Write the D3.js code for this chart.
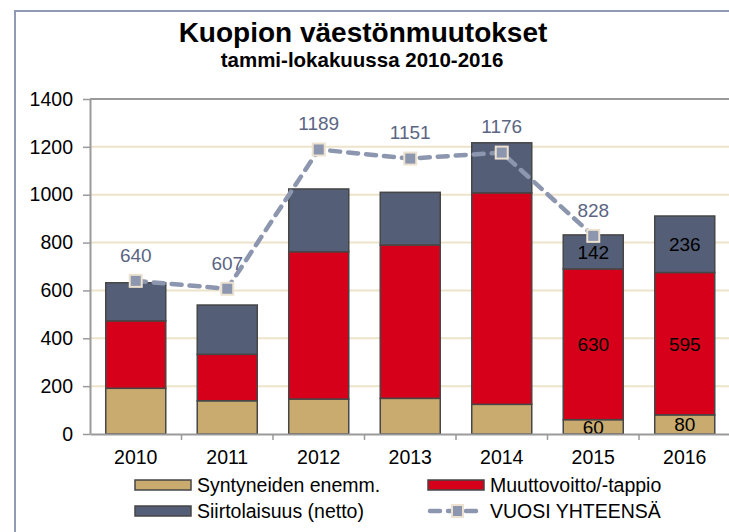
<!DOCTYPE html>
<html lang="fi">
<head>
<meta charset="utf-8">
<title>Kuopion väestönmuutokset</title>
<script src="https://cdn.jsdelivr.net/npm/d3@7"></script>
<style>
  body { margin: 0; background: #fff; }
  svg { font-family: "Liberation Sans", Arial, sans-serif; }
</style>
</head>
<body>
<script>
// data
var years = ["2010", "2011", "2012", "2013", "2014", "2015", "2016"];
var syntyneet = [191, 139, 146, 149, 124, 60, 80];
var muutto = [282, 194, 616, 641, 884, 630, 595];
var siirtolaisuus = [159, 206, 262, 220, 209, 142, 236];
var vuosi = [640, 607, 1189, 1151, 1176, 828, null];
var yTicks = [0, 200, 400, 600, 800, 1000, 1200, 1400];
var seriesNames = ["Syntyneiden enemm.", "Muuttovoitto/-tappio", "Siirtolaisuus (netto)", "VUOSI YHTEENSÄ"];
var labelledYears = ["2015", "2016"]; // only these have segment labels

var w = 729, h = 532;
var colors = ["#c9ab6f", "#d7001a", "#545e76"];
var lineColor = "#8c96ae";

var svg = d3.select("body").append("svg")
    .attr("width", w)
    .attr("height", h);

// outer frame (cropped on right/bottom)
svg.append("path")
    .attr("d", "M15,540 L15,11 L740,11")
    .attr("fill", "none")
    .attr("stroke", "#8f9ab5")
    .attr("stroke-width", 2);

// titles
svg.append("text")
    .attr("x", 363).attr("y", 42)
    .attr("text-anchor", "middle")
    .attr("font-size", 28).attr("font-weight", "bold")
    .text("Kuopion väestönmuutokset");
svg.append("text")
    .attr("x", 362).attr("y", 67)
    .attr("text-anchor", "middle")
    .attr("font-size", 20.5).attr("font-weight", "bold")
    .text("tammi-lokakuussa 2010-2016");

var x = d3.scaleBand()
    .domain(years)
    .range([90, 730.5])
    .paddingInner(0.344)
    .paddingOuter(0.172);

var y = d3.scaleLinear()
    .domain([0, 1400])
    .range([434, 99]);

// gridlines
svg.selectAll("line.grid")
    .data(yTicks.filter(function(d) { return d > 0 && d < 1400; }))
    .enter().append("line")
    .attr("class", "grid")
    .attr("x1", 90).attr("x2", w)
    .attr("y1", function(d) { return y(d); })
    .attr("y2", function(d) { return y(d); })
    .attr("stroke", "#ede3cb")
    .attr("stroke-width", 2);

// top border of plot area
svg.append("line")
    .attr("x1", 90).attr("x2", w)
    .attr("y1", y(1400)).attr("y2", y(1400))
    .attr("stroke", "#9a9a9a").attr("stroke-width", 2);

// stacked bars
var rows = years.map(function(yr, i) {
    return { year: yr, syn: syntyneet[i], muu: muutto[i], sii: siirtolaisuus[i] };
});
var stack = d3.stack().keys(["syn", "muu", "sii"]);
var layers = stack(rows);

var groups = svg.selectAll("g.layer")
    .data(layers)
    .enter().append("g")
    .attr("class", "layer")
    .attr("fill", function(d, i) { return colors[i]; });

groups.selectAll("rect")
    .data(function(d) { return d; })
    .enter().append("rect")
    .attr("x", function(d) { return x(d.data.year); })
    .attr("width", x.bandwidth())
    .attr("y", function(d) { return y(d[1]); })
    .attr("height", function(d) { return y(d[0]) - y(d[1]); })
    .attr("stroke", "#464646")
    .attr("stroke-width", 1.5);

// segment labels
groups.selectAll("text")
    .data(function(d) {
        return d.filter(function(p) { return labelledYears.indexOf(p.data.year) >= 0; });
    })
    .enter().append("text")
    .attr("x", function(d) { return x(d.data.year) + x.bandwidth() / 2; })
    .attr("y", function(d) { return (y(d[0]) + y(d[1])) / 2; })
    .attr("dy", "0.36em")
    .attr("text-anchor", "middle")
    .attr("font-size", 19)
    .attr("fill", "#000")
    .text(function(d) { return d[1] - d[0]; });

// axes
var yAxis = svg.append("g")
    .attr("transform", "translate(90,0)")
    .call(d3.axisLeft(y).tickValues(yTicks).tickFormat(d3.format("d"))
        .tickSize(7).tickPadding(10).tickSizeOuter(0));
yAxis.select(".domain").attr("stroke", "#9a9a9a").attr("stroke-width", 2);
yAxis.selectAll(".tick line").attr("stroke", "#9a9a9a").attr("stroke-width", 1.5);
yAxis.selectAll(".tick text")
    .attr("font-size", 19.5)
    .attr("font-family", "Liberation Sans, Arial, sans-serif")
    .attr("fill", "#000");

var xAxis = svg.append("g")
    .attr("transform", "translate(0,434)")
    .call(d3.axisBottom(x).tickSize(0).tickPadding(16).tickSizeOuter(0));
xAxis.select(".domain").attr("stroke", "#9a9a9a").attr("stroke-width", 2);
xAxis.selectAll(".tick text")
    .attr("font-size", 19.5)
    .attr("font-family", "Liberation Sans, Arial, sans-serif")
    .attr("fill", "#000");

// category boundary ticks
svg.selectAll("line.xtick")
    .data(years.slice(1))
    .enter().append("line")
    .attr("class", "xtick")
    .attr("x1", function(d) { return x(d) - x.step() * x.paddingInner() / 2; })
    .attr("x2", function(d) { return x(d) - x.step() * x.paddingInner() / 2; })
    .attr("y1", 434).attr("y2", 440)
    .attr("stroke", "#9a9a9a").attr("stroke-width", 1.5);

// total line
var pts = years.map(function(yr, i) { return { year: yr, v: vuosi[i] }; })
    .filter(function(d) { return d.v !== null; });
var cx = function(d) { return x(d.year) + x.bandwidth() / 2; };

svg.append("path")
    .datum(pts)
    .attr("fill", "none")
    .attr("stroke", lineColor)
    .attr("stroke-width", 4.5)
    .attr("stroke-dasharray", "10,8")
    .attr("stroke-linecap", "round")
    .attr("d", d3.line().x(cx).y(function(d) { return y(d.v); }));

svg.selectAll("rect.marker")
    .data(pts)
    .enter().append("rect")
    .attr("class", "marker")
    .attr("x", function(d) { return cx(d) - 6; })
    .attr("y", function(d) { return y(d.v) - 6; })
    .attr("width", 12).attr("height", 12)
    .attr("fill", lineColor)
    .attr("stroke", "#ece2cf")
    .attr("stroke-width", 2);

svg.selectAll("text.total")
    .data(pts)
    .enter().append("text")
    .attr("class", "total")
    .attr("x", cx)
    .attr("y", function(d) { return y(d.v) - 26; })
    .attr("dy", "0.36em")
    .attr("text-anchor", "middle")
    .attr("font-size", 19)
    .attr("fill", "#5b6583")
    .text(function(d) { return d.v; });

// legend
var legendPos = [[135, 485], [428, 485], [135, 511], [428, 511]];
var legend = svg.selectAll("g.legend")
    .data(seriesNames)
    .enter().append("g")
    .attr("class", "legend")
    .attr("transform", function(d, i) { return "translate(" + legendPos[i][0] + "," + legendPos[i][1] + ")"; });

legend.each(function(d, i) {
    var g = d3.select(this);
    if (i < 3) {
        g.append("rect")
            .attr("x", 0).attr("y", -5)
            .attr("width", 56).attr("height", 10)
            .attr("fill", colors[i])
            .attr("stroke", "#464646")
            .attr("stroke-width", 1.5);
    } else {
        g.append("line")
            .attr("x1", 2).attr("x2", 54)
            .attr("y1", 0).attr("y2", 0)
            .attr("stroke", lineColor)
            .attr("stroke-width", 4.5)
            .attr("stroke-dasharray", "10,8")
            .attr("stroke-linecap", "round");
        g.append("rect")
            .attr("x", 24).attr("y", -6)
            .attr("width", 11).attr("height", 12)
            .attr("fill", lineColor)
            .attr("stroke", "#ece2cf")
            .attr("stroke-width", 2);
    }
    g.append("text")
        .attr("x", 62)
        .attr("y", 0)
        .attr("dy", "0.36em")
        .attr("font-size", 19.5)
        .attr("fill", "#000")
        .text(d);
});
</script>
</body>
</html>
